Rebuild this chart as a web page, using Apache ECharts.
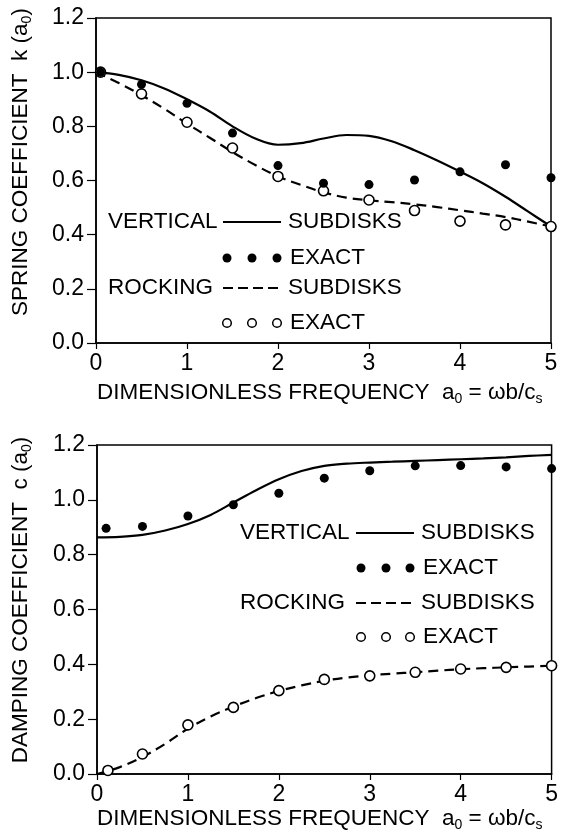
<!DOCTYPE html>
<html>
<head>
<meta charset="utf-8">
<script src="https://cdn.jsdelivr.net/npm/echarts@6/dist/echarts.min.js"></script>
<style>
html,body{margin:0;padding:0;background:#fff;}
#c{width:561px;height:836px;}
</style>
</head>
<body>
<div id="c"></div>
<script>
// ---------- data ----------
const xTicks = [0, 1, 2, 3, 4, 5];
const yTicks = [0.0, 0.2, 0.4, 0.6, 0.8, 1.0, 1.2];

// Top: spring coefficient k(a0)
const topExactX = [0.05, 0.5, 1, 1.5, 2, 2.5, 3, 3.5, 4, 4.5, 5];
const topVertExact = [1.0, 0.955, 0.885, 0.775, 0.655, 0.59, 0.585, 0.602, 0.632, 0.658, 0.61];
const topRockExact = [1.0, 0.92, 0.815, 0.72, 0.615, 0.562, 0.528, 0.489, 0.45, 0.436, 0.43];
const topCurveX = [0, 0.25, 0.5, 0.75, 1, 1.25, 1.5, 1.75, 2, 2.25, 2.5, 2.75, 3, 3.25, 3.5, 3.75, 4, 4.25, 4.5, 4.75, 5];
const topVertSub = [1.0, 0.99, 0.97, 0.94, 0.90, 0.855, 0.80, 0.755, 0.732, 0.738, 0.755, 0.768, 0.765, 0.745, 0.712, 0.674, 0.633, 0.59, 0.54, 0.485, 0.43];
const topRockSub = [1.0, 0.96, 0.915, 0.865, 0.81, 0.758, 0.705, 0.657, 0.615, 0.584, 0.556, 0.537, 0.527, 0.52, 0.512, 0.502, 0.49, 0.478, 0.465, 0.448, 0.43];

// Bottom: damping coefficient c(a0)
const botVertExactX = [0.1, 0.5, 1, 1.5, 2, 2.5, 3, 3.5, 4, 4.5, 5];
const botVertExact = [0.896, 0.903, 0.941, 0.982, 1.024, 1.079, 1.106, 1.124, 1.125, 1.12, 1.114];
const botRockExactX = [0.12, 0.5, 1, 1.5, 2, 2.5, 3, 3.5, 4, 4.5, 5];
const botRockExact = [0.013, 0.073, 0.179, 0.243, 0.304, 0.345, 0.358, 0.371, 0.383, 0.389, 0.395];
const botCurveX = [0, 0.25, 0.5, 0.75, 1, 1.25, 1.5, 1.75, 2, 2.25, 2.5, 2.75, 3, 3.25, 3.5, 3.75, 4, 4.25, 4.5, 4.75, 5];
const botVertSub = [0.863, 0.865, 0.872, 0.888, 0.912, 0.945, 0.99, 1.035, 1.075, 1.105, 1.124, 1.132, 1.136, 1.139, 1.142, 1.145, 1.148, 1.151, 1.155, 1.16, 1.164];
const botRockSub = [0.0, 0.025, 0.062, 0.11, 0.165, 0.21, 0.246, 0.277, 0.303, 0.323, 0.34, 0.352, 0.36, 0.366, 0.371, 0.377, 0.382, 0.386, 0.389, 0.392, 0.395];

// ---------- text ----------
const xTitle = '{m|DIMENSIONLESS FREQUENCY  a}{s|0}{m| = ωb/c}{s|s}';
const yTitleTop = '{m|SPRING COEFFICIENT  k (a}{s|0}{m|)}';
const yTitleBot = '{m|DAMPING COEFFICIENT  c (a}{s|0}{m|)}';
const legVert = 'VERTICAL', legRock = 'ROCKING', legSub = 'SUBDISKS', legExact = 'EXACT';

// ---------- build ----------
const FONT = '"Liberation Sans", Arial, Helvetica, sans-serif';
const FS = 22.5;
const zip = (xs, ys) => xs.map((x, i) => [x, ys[i]]);

function xAxisCfg(gi) {
  return {
    type: 'value', gridIndex: gi, min: xTicks[0], max: xTicks[xTicks.length - 1], interval: 1,
    axisLine: { show: true, onZero: false, lineStyle: { color: '#000', width: 1.5 } },
    axisTick: { show: true, inside: false, length: 6, lineStyle: { color: '#000', width: 1.2 } },
    axisLabel: { color: '#000', fontSize: 23, fontFamily: FONT, margin: 9 },
    splitLine: { show: false }
  };
}
function yAxisCfg(gi) {
  return {
    type: 'value', gridIndex: gi, min: yTicks[0], max: yTicks[yTicks.length - 1], interval: 0.2,
    axisLine: { show: true, onZero: false, lineStyle: { color: '#000', width: 1.5 } },
    axisTick: { show: true, inside: false, length: 9, lineStyle: { color: '#000', width: 1.2 } },
    axisLabel: { color: '#000', fontSize: 23, fontFamily: FONT, margin: 12, formatter: v => v.toFixed(1) },
    splitLine: { show: false }
  };
}
const lineS = (gi, data, dashed) => ({
  type: 'line', xAxisIndex: gi, yAxisIndex: gi, data, smooth: 0.35, showSymbol: false, symbol: 'none',
  lineStyle: { color: '#000', width: 2.2, type: dashed ? [10, 6] : 'solid', opacity: 1 }, z: 3, silent: true, animation: false
});
const dotS = (gi, data, open) => ({
  type: 'scatter', xAxisIndex: gi, yAxisIndex: gi, data, symbol: 'circle', symbolSize: open ? 10 : 9, clip: false,
  itemStyle: open ? { color: '#fff', borderColor: '#000', borderWidth: 1.6, opacity: 1 } : { color: '#000', opacity: 1 },
  z: open ? 4 : 5, silent: true, animation: false
});

const richMain = {
  m: { fontSize: FS, fontFamily: FONT, color: '#000', lineHeight: 26 },
  s: { fontSize: 14, fontFamily: FONT, color: '#000', lineHeight: 14, verticalAlign: 'bottom' }
};
const txt = (x, y, text) => ({
  type: 'text', x, y, silent: true,
  style: { text, fill: '#000', font: FS + 'px ' + FONT, align: 'left', verticalAlign: 'middle' }
});
const richTxt = (x, y, text, rot, align) => ({
  type: 'text', x, y, rotation: rot || 0, silent: true,
  style: { text, rich: richMain, fill: '#000', font: FS + 'px ' + FONT, align: align || 'left', verticalAlign: 'middle' }
});
const hline = (x1, x2, y, dashed) => ({
  type: 'line', silent: true, shape: { x1, y1: y, x2, y2: y },
  style: { stroke: '#000', lineWidth: 2.2, lineDash: dashed ? [10, 5] : null }
});
const dot = (cx, cy, open) => ({
  type: 'circle', silent: true, shape: { cx, cy, r: open ? 4.3 : 4.5 },
  style: open ? { fill: '#fff', stroke: '#000', lineWidth: 1.5 } : { fill: '#000' }
});

function legend(x0, xl1, xl2, xs, dotsX, ys) {
  return [
    txt(x0, ys[0], legVert), hline(xl1, xl2, ys[0], false), txt(xs, ys[0], legSub),
    ...dotsX.map(d => dot(d, ys[1], false)), txt(xs + 2, ys[1], legExact),
    txt(x0, ys[2], legRock), hline(xl1, xl2, ys[2], true), txt(xs, ys[2], legSub),
    ...dotsX.map(d => dot(d, ys[3], true)), txt(xs + 2, ys[3], legExact)
  ];
}

const option = {
  backgroundColor: '#fff',
  animation: false,
  grid: [
    { left: 96, right: 10, top: 18, height: 325, show: true, borderColor: '#000', borderWidth: 1.5, backgroundColor: 'transparent' },
    { left: 97, right: 9, top: 445, height: 329, show: true, borderColor: '#000', borderWidth: 1.5, backgroundColor: 'transparent' }
  ],
  xAxis: [xAxisCfg(0), xAxisCfg(1)],
  yAxis: [yAxisCfg(0), yAxisCfg(1)],
  series: [
    lineS(0, zip(topCurveX, topVertSub), false),
    lineS(0, zip(topCurveX, topRockSub), true),
    dotS(0, zip(topExactX, topRockExact), true),
    dotS(0, zip(topExactX, topVertExact), false),
    lineS(1, zip(botCurveX, botVertSub), false),
    lineS(1, zip(botCurveX, botRockSub), true),
    dotS(1, zip(botRockExactX, botRockExact), true),
    dotS(1, zip(botVertExactX, botVertExact), false)
  ],
  graphic: [
    richTxt(97, 393, xTitle),
    richTxt(97, 819, xTitle),
    richTxt(21, 162, yTitleTop, Math.PI / 2, 'center'),
    richTxt(21, 600, yTitleBot, Math.PI / 2, 'center'),
    ...legend(108, 223, 281, 288, [227, 252, 277], [222, 258, 288, 323]),
    ...legend(240, 356, 414, 421, [361, 386, 410], [533, 568, 603, 637])
  ]
};

const chart = echarts.init(document.getElementById('c'), null, { renderer: 'canvas' });
chart.setOption(option);
</script>
</body>
</html>
